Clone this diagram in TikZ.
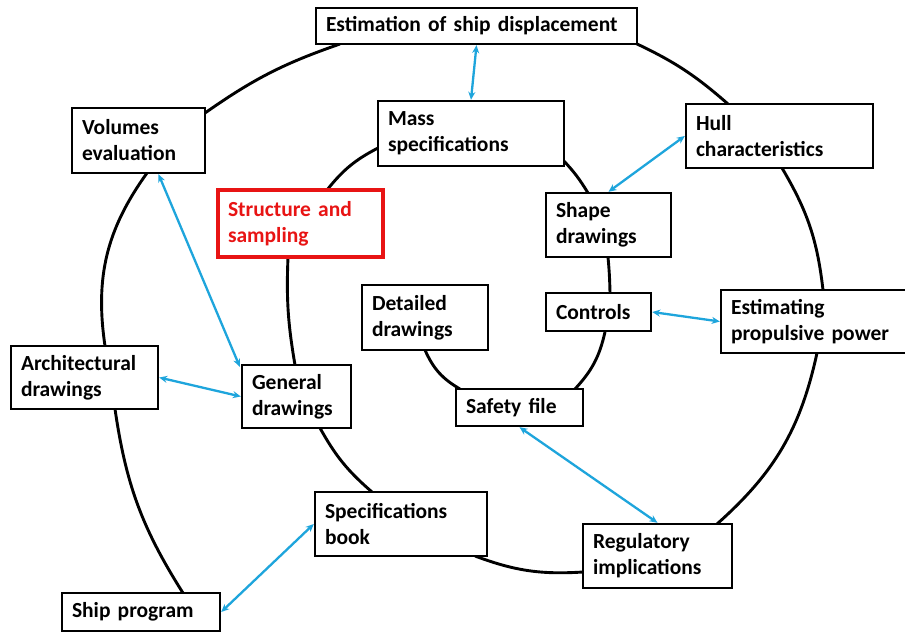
\documentclass[tikz,border=0pt]{standalone}
\usepackage{fontspec}
\setmainfont{Carlito}
\usetikzlibrary{arrows.meta,calc}
\definecolor{arrowblue}{RGB}{30,165,220}
\definecolor{boxred}{RGB}{232,20,20}
\begin{document}
\begin{tikzpicture}[x=1pt,y=-1pt,
  box/.style={draw=black,line width=2.4pt,fill=white,inner xsep=10pt,inner ysep=2pt,
    align=left,font=\fontsize{21.5}{26}\selectfont\bfseries},
  spiral/.style={draw=black,line width=2.9pt},
  link/.style={draw=arrowblue,line width=2.3pt,{Stealth[length=8pt,width=7pt]}-{Stealth[length=8pt,width=7pt]}}]
\useasboundingbox (0,0) rectangle (905,632);
\clip (0,0) rectangle (905,632);
\fill[white] (0,0) rectangle (905,632);
% spiral curves (drawn first, boxes on top)
\coordinate (s1a) at (183,593); \coordinate (s1b) at (115,409);
\coordinate (s2a) at (105,346); \coordinate (s2b) at (147,173);
\coordinate (s3a) at (205,113); \coordinate (s3b) at (340,44);
\coordinate (s4a) at (635,43);  \coordinate (s4b) at (728,104);
\coordinate (s5a) at (782,168); \coordinate (s5b) at (823,290);
\coordinate (s6a) at (817,353); \coordinate (s6b) at (717,524);
\coordinate (s7a) at (583,572); \coordinate (s7b) at (475,556);
\coordinate (s8a) at (372,492); \coordinate (s8b) at (320,428);
\coordinate (s9a) at (295,365); \coordinate (s9b) at (288,257);
\coordinate (s10a) at (327,190); \coordinate (s10b) at (378,148);
\coordinate (s11a) at (563,160); \coordinate (s11b) at (588,193);
\coordinate (s12a) at (608,257); \coordinate (s12b) at (610,293);
\coordinate (s13a) at (605,332); \coordinate (s13b) at (575,389);
\coordinate (s14a) at (460,389); \coordinate (s14b) at (425,350);
\draw[spiral] (s1a) to[bend left=12] (s1b);
\draw[spiral] (s2a) to[bend left=22] (s2b);
\draw[spiral] (s3a) to[bend left=8] (s3b);
\draw[spiral] (s4a) to[bend left=8] (s4b);
\draw[spiral] (s5a) to[bend left=12] (s5b);
\draw[spiral] (s6a) to[bend left=18] (s6b);
\draw[spiral] (s7a) to[bend left=12] (s7b);
\draw[spiral] (s8a) to[bend left=10] (s8b);
\draw[spiral] (s9a) to[bend left=6] (s9b);
\draw[spiral] (s10a) to[bend left=12] (s10b);
\draw[spiral] (s11a) to[bend left=6] (s11b);
\draw[spiral] (s12a) to[bend left=2] (s12b);
\draw[spiral] (s13a) to[bend left=15] (s13b);
\draw[spiral] (s14a) to[bend left=18] (s14b);
% boxes
\node[box,text width=301pt,minimum height=36pt] (est) at (476.5,26) {Estimation of ship displacement};
\node[box,text width=113pt,minimum height=65pt] (vol) at (138.5,140.5) {Volumes\\evaluation};
\node[box,text width=166pt,minimum height=65pt] (mass) at (471,133.5) {Mass\\specifications};
\node[box,text width=167pt,minimum height=64pt] (hull) at (779.5,136) {Hull\\characteristics};
\node[box,draw=boxred,text=boxred,line width=4.5pt,text width=145pt,minimum height=67pt] (struct) at (300.5,223.5) {Structure and\\sampling};
\node[box,text width=105pt,minimum height=64pt] (shape) at (608.5,225) {Shape\\drawings};
\node[box,text width=85pt,minimum height=38pt] (ctrl) at (598.5,312) {Controls};
\node[box,text width=166pt,minimum height=63pt] (prop) at (814,321.5) {Estimating\\propulsive power};
\node[box,text width=106pt,minimum height=65pt] (det) at (425,317.5) {Detailed\\drawings};
\node[box,text width=127pt,minimum height=63pt] (arch) at (84.5,377.5) {Architectural\\drawings};
\node[box,text width=89pt,minimum height=63pt] (gen) at (296.5,396.5) {General\\drawings};
\node[box,text width=107pt,minimum height=37pt] (safe) at (519.5,407.5) {Safety file};
\node[box,text width=152pt,minimum height=64pt] (spec) at (401,524) {Specifications\\book};
\node[box,text width=129pt,minimum height=64pt] (reg) at (657.5,556) {Regulatory\\implications};
\node[box,text width=138pt,minimum height=38pt] (ship) at (141,612) {Ship program};
% blue double arrows
\draw[link] (est.south) -- (mass.north);
\draw[link] (hull.west) -- (shape.north);
\draw[link] (ctrl.east) -- (prop.west);
\draw[link] ($(vol.south)+(20,0)$) -- ($(gen.north west)+(-1,3)$);
\draw[link] (arch.east) -- (gen.west);
\draw[link] (ship.east) -- (spec.west);
\draw[link] (safe.south) -- (reg.north);
\end{tikzpicture}
\end{document}
